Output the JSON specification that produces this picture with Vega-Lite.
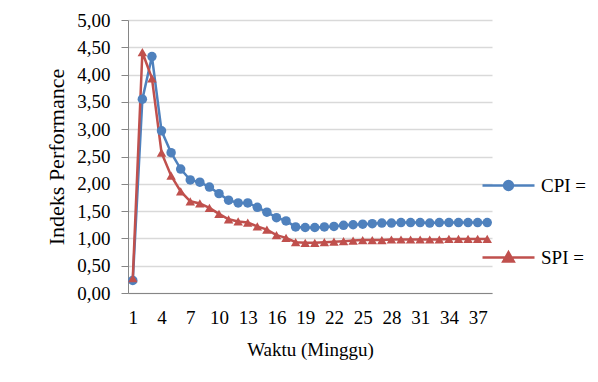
{
  "$schema": "https://vega.github.io/schema/vega-lite/v6.json",
  "width": 364,
  "height": 273,
  "autosize": {"type": "none"},
  "padding": {"left": 128, "top": 20, "right": 106, "bottom": 89},
  "background": "white",
  "config": {
    "view": {"stroke": null},
    "font": "Liberation Serif",
    "axis": {
      "labelFont": "Liberation Serif",
      "titleFont": "Liberation Serif",
      "labelColor": "black",
      "titleColor": "black",
      "labelFontSize": 19,
      "titleFontSize": 19,
      "titleFontWeight": "normal",
      "domainColor": "#868686",
      "tickColor": "#868686",
      "gridColor": "#d9d9d9",
      "gridWidth": 1.5
    },
    "legend": {
      "labelFont": "Liberation Serif",
      "labelFontSize": 19,
      "labelColor": "black"
    }
  },
  "data": {
    "values": [
      {"minggu": 1, "seri": "CPI =", "nilai": 0.23}, {"minggu": 1, "seri": "SPI =", "nilai": 0.27},
      {"minggu": 2, "seri": "CPI =", "nilai": 3.55}, {"minggu": 2, "seri": "SPI =", "nilai": 4.41},
      {"minggu": 3, "seri": "CPI =", "nilai": 4.33}, {"minggu": 3, "seri": "SPI =", "nilai": 3.93},
      {"minggu": 4, "seri": "CPI =", "nilai": 2.97}, {"minggu": 4, "seri": "SPI =", "nilai": 2.57},
      {"minggu": 5, "seri": "CPI =", "nilai": 2.57}, {"minggu": 5, "seri": "SPI =", "nilai": 2.15},
      {"minggu": 6, "seri": "CPI =", "nilai": 2.27}, {"minggu": 6, "seri": "SPI =", "nilai": 1.86},
      {"minggu": 7, "seri": "CPI =", "nilai": 2.07}, {"minggu": 7, "seri": "SPI =", "nilai": 1.68},
      {"minggu": 8, "seri": "CPI =", "nilai": 2.03}, {"minggu": 8, "seri": "SPI =", "nilai": 1.64},
      {"minggu": 9, "seri": "CPI =", "nilai": 1.94}, {"minggu": 9, "seri": "SPI =", "nilai": 1.56},
      {"minggu": 10, "seri": "CPI =", "nilai": 1.82}, {"minggu": 10, "seri": "SPI =", "nilai": 1.45},
      {"minggu": 11, "seri": "CPI =", "nilai": 1.70}, {"minggu": 11, "seri": "SPI =", "nilai": 1.35},
      {"minggu": 12, "seri": "CPI =", "nilai": 1.65}, {"minggu": 12, "seri": "SPI =", "nilai": 1.31},
      {"minggu": 13, "seri": "CPI =", "nilai": 1.65}, {"minggu": 13, "seri": "SPI =", "nilai": 1.29},
      {"minggu": 14, "seri": "CPI =", "nilai": 1.57}, {"minggu": 14, "seri": "SPI =", "nilai": 1.22},
      {"minggu": 15, "seri": "CPI =", "nilai": 1.48}, {"minggu": 15, "seri": "SPI =", "nilai": 1.16},
      {"minggu": 16, "seri": "CPI =", "nilai": 1.38}, {"minggu": 16, "seri": "SPI =", "nilai": 1.06},
      {"minggu": 17, "seri": "CPI =", "nilai": 1.32}, {"minggu": 17, "seri": "SPI =", "nilai": 1.01},
      {"minggu": 18, "seri": "CPI =", "nilai": 1.21}, {"minggu": 18, "seri": "SPI =", "nilai": 0.93},
      {"minggu": 19, "seri": "CPI =", "nilai": 1.20}, {"minggu": 19, "seri": "SPI =", "nilai": 0.92},
      {"minggu": 20, "seri": "CPI =", "nilai": 1.20}, {"minggu": 20, "seri": "SPI =", "nilai": 0.92},
      {"minggu": 21, "seri": "CPI =", "nilai": 1.21}, {"minggu": 21, "seri": "SPI =", "nilai": 0.93},
      {"minggu": 22, "seri": "CPI =", "nilai": 1.22}, {"minggu": 22, "seri": "SPI =", "nilai": 0.94},
      {"minggu": 23, "seri": "CPI =", "nilai": 1.24}, {"minggu": 23, "seri": "SPI =", "nilai": 0.95},
      {"minggu": 24, "seri": "CPI =", "nilai": 1.25}, {"minggu": 24, "seri": "SPI =", "nilai": 0.96},
      {"minggu": 25, "seri": "CPI =", "nilai": 1.26}, {"minggu": 25, "seri": "SPI =", "nilai": 0.97},
      {"minggu": 26, "seri": "CPI =", "nilai": 1.27}, {"minggu": 26, "seri": "SPI =", "nilai": 0.97},
      {"minggu": 27, "seri": "CPI =", "nilai": 1.28}, {"minggu": 27, "seri": "SPI =", "nilai": 0.97},
      {"minggu": 28, "seri": "CPI =", "nilai": 1.28}, {"minggu": 28, "seri": "SPI =", "nilai": 0.98},
      {"minggu": 29, "seri": "CPI =", "nilai": 1.29}, {"minggu": 29, "seri": "SPI =", "nilai": 0.98},
      {"minggu": 30, "seri": "CPI =", "nilai": 1.29}, {"minggu": 30, "seri": "SPI =", "nilai": 0.98},
      {"minggu": 31, "seri": "CPI =", "nilai": 1.29}, {"minggu": 31, "seri": "SPI =", "nilai": 0.98},
      {"minggu": 32, "seri": "CPI =", "nilai": 1.28}, {"minggu": 32, "seri": "SPI =", "nilai": 0.98},
      {"minggu": 33, "seri": "CPI =", "nilai": 1.29}, {"minggu": 33, "seri": "SPI =", "nilai": 0.98},
      {"minggu": 34, "seri": "CPI =", "nilai": 1.29}, {"minggu": 34, "seri": "SPI =", "nilai": 0.99},
      {"minggu": 35, "seri": "CPI =", "nilai": 1.29}, {"minggu": 35, "seri": "SPI =", "nilai": 0.99},
      {"minggu": 36, "seri": "CPI =", "nilai": 1.29}, {"minggu": 36, "seri": "SPI =", "nilai": 0.99},
      {"minggu": 37, "seri": "CPI =", "nilai": 1.29}, {"minggu": 37, "seri": "SPI =", "nilai": 0.99},
      {"minggu": 38, "seri": "CPI =", "nilai": 1.29}, {"minggu": 38, "seri": "SPI =", "nilai": 0.99}
    ]
  },
  "encoding": {
    "x": {
      "field": "minggu",
      "type": "quantitative",
      "scale": {"domain": [0.5, 38.5], "nice": false, "zero": false},
      "axis": {
        "title": "Waktu (Minggu)",
        "values": [1, 4, 7, 10, 13, 16, 19, 22, 25, 28, 31, 34, 37],
        "grid": false,
        "ticks": false,
        "labelPadding": 15,
        "titlePadding": 13,
        "labelFlush": false
      }
    },
    "y": {
      "field": "nilai",
      "type": "quantitative",
      "scale": {"domain": [0, 5], "nice": false},
      "axis": {
        "title": "Indeks Performance",
        "titleFontSize": 22,
        "values": [0, 0.5, 1, 1.5, 2, 2.5, 3, 3.5, 4, 4.5, 5],
        "labelExpr": "replace(format(datum.value, '.2f'), '.', ',')",
        "tickSize": 7,
        "labelPadding": 11,
        "titlePadding": 8
      }
    },
    "color": {
      "field": "seri",
      "type": "nominal",
      "scale": {"domain": ["CPI =", "SPI ="], "range": ["#4f81bd", "#c0504d"]},
      "legend": {
        "title": null,
        "orient": "none",
        "legendX": 353,
        "legendY": 138,
        "padding": 0,
        "symbolSize": 2704,
        "symbolStrokeWidth": 2.5,
        "labelOffset": 5,
        "rowPadding": 34,
        "encode": {
          "symbols": {
            "update": {
              "shape": {"signal": "datum.value === 'CPI =' ? 'M-1,0H1M0.17,0A0.17,0.17,0,1,1,-0.17,0A0.17,0.17,0,1,1,0.17,0Z' : 'M-1,0H1M0,-0.2L0.2,0.15L-0.2,0.15Z'"},
              "fill": {"signal": "scale('color', datum.value)"},
              "stroke": {"signal": "scale('color', datum.value)"},
              "fillOpacity": {"value": 1},
              "strokeWidth": {"value": 2.5}
            }
          }
        }
      }
    }
  },
  "layer": [
    {
      "mark": {"type": "line", "strokeWidth": 2.5}
    },
    {
      "mark": {"type": "point", "filled": true, "opacity": 1, "size": 90},
      "encoding": {
        "shape": {
          "condition": {"test": "datum.seri === 'CPI ='", "value": "circle"},
          "value": "triangle-up"
        }
      }
    }
  ]
}
